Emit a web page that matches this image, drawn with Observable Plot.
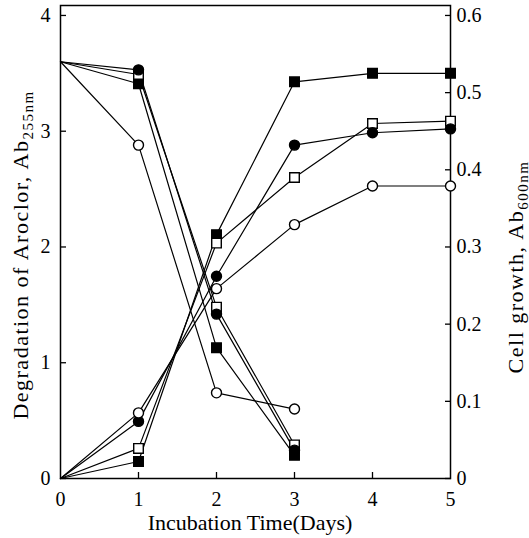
<!DOCTYPE html>
<html>
<head>
<meta charset="utf-8">
<script src="https://cdn.jsdelivr.net/npm/d3@7"></script>
<script src="https://cdn.jsdelivr.net/npm/@observablehq/plot@0.6"></script>
<style>
  html, body { margin: 0; padding: 0; background: white; }
  #chart svg { display: block; }
</style>
</head>
<body>
<div id="chart"></div>
<script>
// ---- data ----
const days = [0, 1, 2, 3, 4, 5];
const degradationDays = [0, 1, 2, 3];
const seriesNames = ["filledSquare", "openSquare", "filledCircle", "openCircle"];
const seriesSymbols = ["square", "square", "circle", "circle"];
const seriesFills = ["black", "white", "black", "white"];

// Degradation of Aroclor (left axis, Ab255nm)
const degFilledSquare = [3.6, 3.41, 1.13, 0.2];
const degOpenSquare   = [3.6, 3.49, 1.48, 0.29];
const degFilledCircle = [3.6, 3.53, 1.42, 0.245];
const degOpenCircle   = [3.6, 2.88, 0.74, 0.6];

// Cell growth (right axis, Ab600nm)
const growthFilledSquare = [0, 0.022, 0.316, 0.514, 0.525, 0.525];
const growthOpenSquare   = [0, 0.039, 0.305, 0.39, 0.46, 0.463];
const growthFilledCircle = [0, 0.074, 0.262, 0.432, 0.448, 0.453];
const growthOpenCircle   = [0, 0.085, 0.246, 0.329, 0.379, 0.379];

const xTicks = [0, 1, 2, 3, 4, 5];
const xInnerTicks = [1, 2, 3, 4];
const leftTicks = [0, 1, 2, 3, 4];
const rightTicks = [0, 0.1, 0.2, 0.3, 0.4, 0.5, 0.6];
const rightPerLeft = 0.15; // 0.6 on right axis aligns with 4 on left axis

// ---- build tables ----
const degSeries = [degFilledSquare, degOpenSquare, degFilledCircle, degOpenCircle];
const growthSeries = [growthFilledSquare, growthOpenSquare, growthFilledCircle, growthOpenCircle];

const rows = [];
seriesNames.forEach((name, s) => {
  degradationDays.forEach((d, i) => rows.push({series: name, kind: "deg", day: d, value: degSeries[s][i], y: degSeries[s][i]}));
  days.forEach((d, i) => rows.push({series: name, kind: "growth", day: d, value: growthSeries[s][i], y: growthSeries[s][i] / rightPerLeft}));
});

const lineMarks = [];
const dotMarks = [];
seriesNames.forEach((name, s) => {
  for (const kind of ["deg", "growth"]) {
    const data = rows.filter(r => r.series === name && r.kind === kind);
    lineMarks.push(Plot.line(data, {x: "day", y: "y", stroke: "black", strokeWidth: 1.2}));
    dotMarks.push(Plot.dot(data.filter(r => r.day > 0), {
      x: "day", y: "y", symbol: seriesSymbols[s],
      r: seriesSymbols[s] === "square" ? 5.4 : 5,
      fill: seriesFills[s], stroke: "black", strokeWidth: 1.4
    }));
  }
});

const fmt = d3.format(".1~f");

const chart = Plot.plot({
  width: 529,
  height: 538,
  marginLeft: 60,
  marginRight: 79,
  marginTop: 5,
  marginBottom: 60,
  style: {fontFamily: "'Liberation Serif', 'DejaVu Serif', serif", fontSize: "20px", background: "white", color: "black"},
  x: {domain: [0, 5]},
  y: {domain: [0, 4.086]},
  marks: [
    Plot.frame({stroke: "black", strokeWidth: 1.5}),
    // x axis
    Plot.axisX({ticks: xTicks, tickSize: 0, tickPadding: 13, label: null, fontSize: 20, tickFormat: d => String(d)}),
    Plot.axisX({ticks: xInnerTicks, tickSize: -6, text: null, label: null, strokeWidth: 1.3}),
    // left axis
    Plot.axisY({anchor: "left", ticks: leftTicks, tickSize: 0, tickPadding: 10, label: null, fontSize: 20, tickFormat: d => String(d)}),
    Plot.axisY({anchor: "left", ticks: leftTicks, tickSize: -6, text: null, label: null, strokeWidth: 1.3}),
    // right axis
    Plot.axisY({anchor: "right", ticks: rightTicks.map(t => t / rightPerLeft), tickSize: 0, tickPadding: 6, label: null, fontSize: 20, tickFormat: d => fmt(d * rightPerLeft)}),
    Plot.axisY({anchor: "right", ticks: rightTicks.map(t => t / rightPerLeft), tickSize: -6, text: null, label: null, strokeWidth: 1.3}),
    ...lineMarks,
    ...dotMarks
  ]
});

document.getElementById("chart").appendChild(chart);

// ---- axis titles (with subscripts) ----
const svg = d3.select(chart);
const font = "'Liberation Serif', 'DejaVu Serif', serif";

const xt = svg.append("text")
  .attr("x", 250).attr("y", 530)
  .attr("text-anchor", "middle")
  .attr("font-family", font).attr("font-size", 22)
  .attr("fill", "black")
  .text("Incubation Time(Days)");

function vtitle(cx, cy, main, sub) {
  const t = svg.append("text")
    .attr("transform", `translate(${cx},${cy}) rotate(-90)`)
    .attr("text-anchor", "middle")
    .attr("font-family", font).attr("font-size", 22)
    .attr("letter-spacing", "1.5px")
    .attr("fill", "black");
  t.append("tspan").text(main);
  t.append("tspan").attr("font-size", 15).attr("dy", "0.3em").text(sub);
}
vtitle(28, 255, "Degradation of Aroclor, Ab", "255nm");
vtitle(523, 267, "Cell growth, Ab", "600nm");
</script>
</body>
</html>
